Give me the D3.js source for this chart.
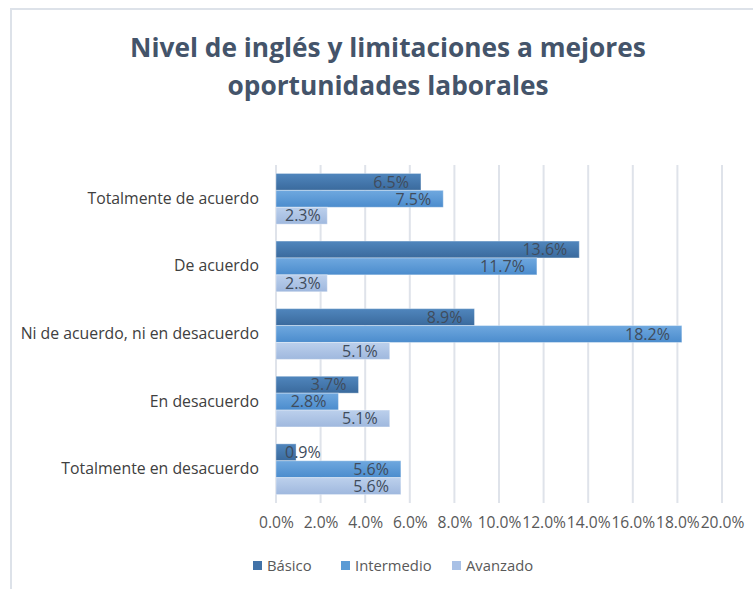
<!DOCTYPE html>
<html>
<head>
<meta charset="utf-8">
<script src="https://cdn.jsdelivr.net/npm/d3@7"></script>
<style>
  body { margin: 0; background: #fff; }
  text { font-family: "Open Sans", "Noto Sans", sans-serif; }
</style>
</head>
<body>
<div id="chart"></div>
<script>
// size of the page
var w = 753;
var h = 589;

// data
var categories = ["Totalmente de acuerdo", "De acuerdo", "Ni de acuerdo, ni en desacuerdo", "En desacuerdo", "Totalmente en desacuerdo"];
var seriesNames = ["Básico", "Intermedio", "Avanzado"];
var basico = [6.5, 13.6, 8.9, 3.7, 0.9];
var intermedio = [7.5, 11.7, 18.2, 2.8, 5.6];
var avanzado = [2.3, 2.3, 5.1, 5.1, 5.6];
var ticks = [0, 2, 4, 6, 8, 10, 12, 14, 16, 18, 20];

var seriesValues = [basico, intermedio, avanzado];

// gradient colors per series (top, bottom)
var colors = [
    ["#5086bd", "#3a6a9d"],
    ["#6fa8df", "#4b8ccd"],
    ["#bcd0ec", "#9fb8de"]
];
var legendColors = ["#4172a8", "#5b9bd5", "#a9c1e6"];

var svg = d3.select("#chart")
    .append("svg")
    .attr("width", w)
    .attr("height", h);

// chart frame (only top and left edges visible)
svg.append("path")
    .attr("d", "M11,589 L11,9 L753,9")
    .attr("fill", "none")
    .attr("stroke", "#dde2e9")
    .attr("stroke-width", 2);

// gradients
var defs = svg.append("defs");
colors.forEach((c, i) => {
    var g = defs.append("linearGradient")
        .attr("id", "grad" + i)
        .attr("x1", 0).attr("y1", 0).attr("x2", 0).attr("y2", 1);
    g.append("stop").attr("offset", "0%").attr("stop-color", c[0]);
    g.append("stop").attr("offset", "100%").attr("stop-color", c[1]);
});

// title
svg.append("text")
    .attr("x", 388)
    .attr("y", 57)
    .attr("text-anchor", "middle")
    .attr("fill", "#44546a")
    .style("font-size", "26.3px")
    .style("font-weight", "bold")
    .text("Nivel de inglés y limitaciones a mejores");

svg.append("text")
    .attr("x", 388)
    .attr("y", 95)
    .attr("text-anchor", "middle")
    .attr("fill", "#44546a")
    .style("font-size", "26.3px")
    .style("font-weight", "bold")
    .text("oportunidades laborales");

// scales
var xScale = d3.scaleLinear()
    .domain([0, 20])
    .range([276, 722]);

var yScale = d3.scaleBand()
    .domain(categories)
    .range([165, 503])
    .paddingInner(0.25)
    .paddingOuter(0.125);

var subScale = d3.scaleBand()
    .domain(d3.range(seriesNames.length))
    .range([0, yScale.bandwidth()]);

// gridlines
svg.append("g")
    .selectAll("line")
    .data(ticks)
    .enter()
    .append("line")
    .attr("x1", d => xScale(d))
    .attr("x2", d => xScale(d))
    .attr("y1", 165)
    .attr("y2", 503)
    .attr("stroke", "#dfe3ea")
    .attr("stroke-width", 2);

// x axis tick labels
var xAxis = d3.axisBottom(xScale)
    .tickValues(ticks)
    .tickFormat(d => d.toFixed(1) + "%")
    .tickSize(0)
    .tickPadding(0);

var xAxisGroup = svg.append("g")
    .attr("transform", "translate(0,517)")
    .call(xAxis);
xAxisGroup.select(".domain").remove();
xAxisGroup.selectAll("text")
    .attr("fill", "#595959")
    .style("font-size", "15.6px")
    .style("font-family", "'Open Sans', sans-serif");

// y axis category labels
var yAxis = d3.axisLeft(yScale)
    .tickSize(0)
    .tickPadding(0);

var yAxisGroup = svg.append("g")
    .attr("transform", "translate(259,0)")
    .call(yAxis);
yAxisGroup.select(".domain").remove();
yAxisGroup.selectAll("text")
    .attr("fill", "#404040")
    .style("font-size", "15.8px")
    .style("font-family", "'Open Sans', sans-serif");

// bars
var rows = [];
categories.forEach((cat, ci) => {
    seriesValues.forEach((vals, si) => {
        rows.push({ cat: cat, s: si, v: vals[ci] });
    });
});

svg.append("g")
    .selectAll("rect")
    .data(rows)
    .enter()
    .append("rect")
    .attr("x", xScale(0))
    .attr("y", d => yScale(d.cat) + subScale(d.s))
    .attr("width", d => xScale(d.v) - xScale(0))
    .attr("height", subScale.bandwidth())
    .attr("fill", d => "url(#grad" + d.s + ")")
    .attr("stroke", "#ffffff")
    .attr("stroke-opacity", 0.35)
    .attr("stroke-width", 1);

// data labels, inside end; pushed right when they don't fit
var labels = svg.append("g")
    .selectAll("text")
    .data(rows)
    .enter()
    .append("text")
    .attr("y", d => yScale(d.cat) + subScale(d.s) + subScale.bandwidth() / 2)
    .attr("dy", "0.36em")
    .attr("fill", "#404c5c")
    .style("font-size", "16px")
    .text(d => d.v.toFixed(1) + "%");

labels.each(function(d) {
    var tw = this.getComputedTextLength();
    var end = xScale(d.v) - 12;
    var start = Math.max(end - tw, xScale(0) + 9);
    d3.select(this).attr("x", start);
});

// legend
var legendX = [253, 341, 452];
var legend = svg.append("g")
    .selectAll("g")
    .data(seriesNames)
    .enter()
    .append("g")
    .attr("transform", (d, i) => `translate(${legendX[i]},566)`);

legend.append("rect")
    .attr("x", 0)
    .attr("y", -5)
    .attr("width", 9)
    .attr("height", 9)
    .attr("fill", (d, i) => legendColors[i]);

legend.append("text")
    .attr("x", 14)
    .attr("dy", "0.35em")
    .attr("fill", "#595959")
    .style("font-size", "14.8px")
    .text(d => d);
</script>
</body>
</html>
